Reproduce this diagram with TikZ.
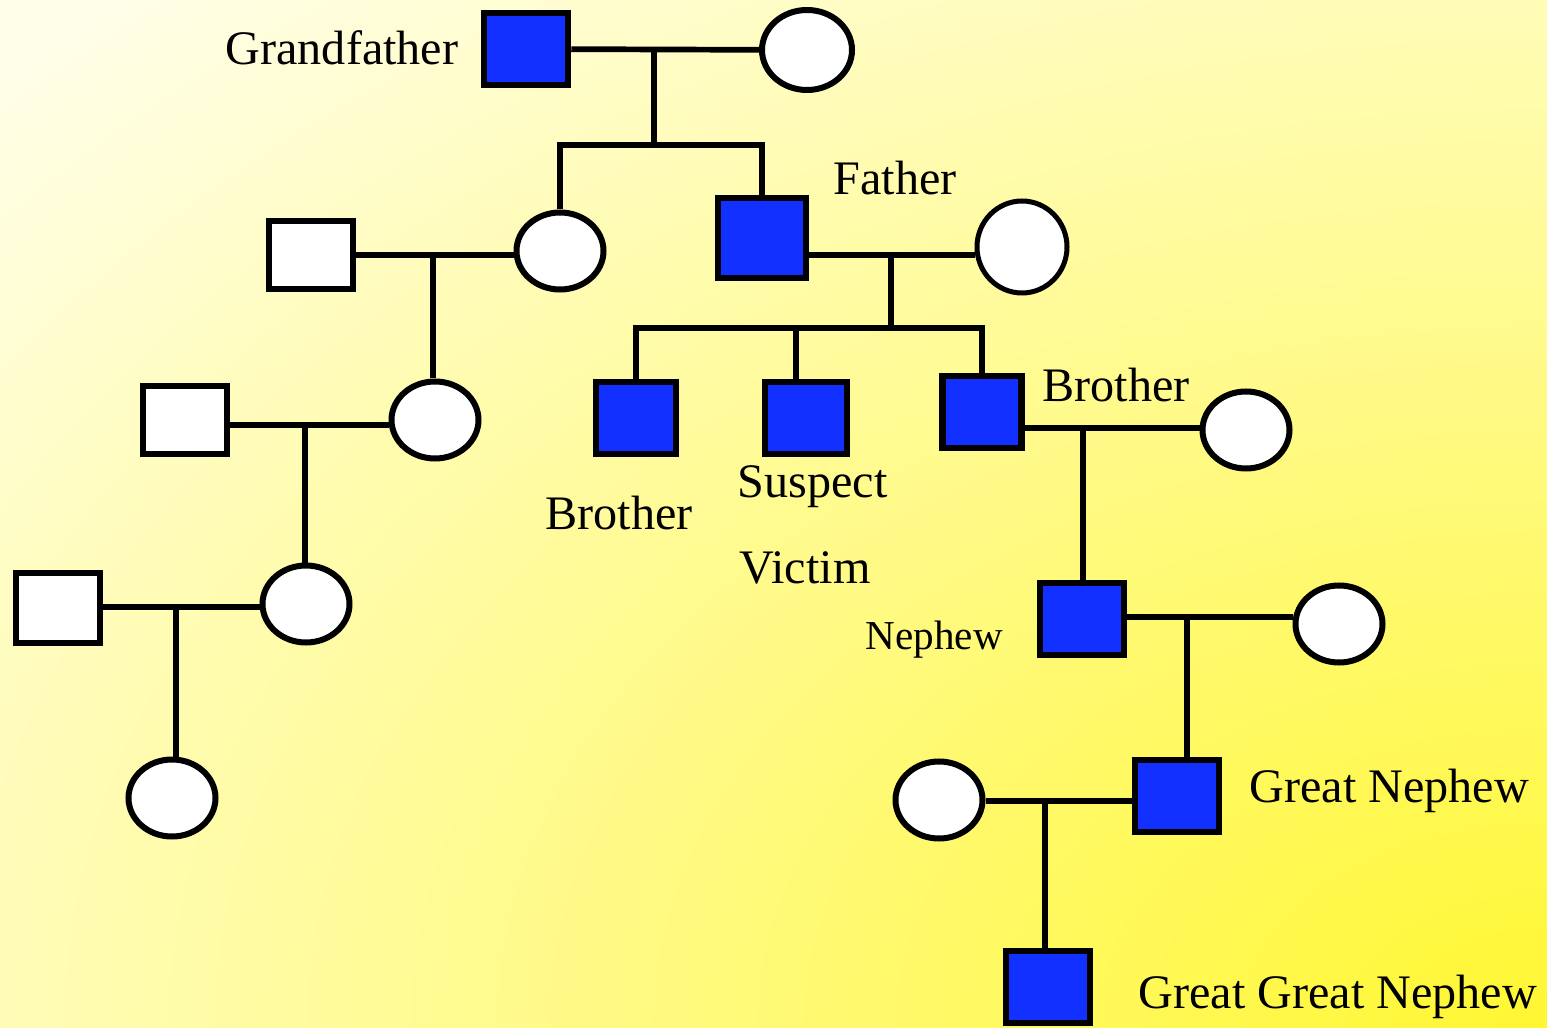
\documentclass[tikz,border=0pt]{standalone}
\usepackage{fontspec}
\setmainfont{Liberation Serif}
\usetikzlibrary{shapes.geometric}
\definecolor{kinblue}{RGB}{18,48,255}
\definecolor{paleyellow}{RGB}{255,254,232}
\definecolor{deepyellow}{RGB}{255,247,50}
\tikzset{
  male/.style={draw, line width=0.065cm, fill=kinblue, minimum width=0.84cm, minimum height=0.72cm, inner sep=0pt},
  plainmale/.style={male, fill=white},
  female/.style={draw, ellipse, line width=0.06cm, fill=white, minimum width=0.87cm, minimum height=0.77cm, inner sep=0pt},
  kin/.style={line width=0.057cm},
  kinname/.style={inner sep=0pt, anchor=base west, font=\fontsize{13.7}{16}\selectfont}
}
\begin{document}
\begin{tikzpicture}
\useasboundingbox (0,0) rectangle (15.47,10.27);
\begin{scope}
\clip (0,0) rectangle (15.47,10.27);
\fill[paleyellow] (0,0) rectangle (15.47,10.27);
\shade[inner color=deepyellow, outer color=paleyellow] (15.47,0) ellipse (21 and 14);
\end{scope}

\node[male] (gf) at (5.26,9.78) {};
\node[female, minimum width=0.90cm, minimum height=0.80cm] (gm) at (8.07,9.77) {};
\node[female] (aunt) at (5.60,7.76) {};
\node[male, minimum width=0.88cm, minimum height=0.80cm] (father) at (7.62,7.89) {};
\node[female, minimum width=0.90cm, minimum height=0.92cm, line width=0.05cm] (mother) at (10.22,7.80) {};
\node[plainmale, minimum height=0.68cm] (uncle) at (3.11,7.72) {};

\node[female] (cousin1) at (4.35,6.07) {};
\node[plainmale, minimum height=0.68cm] (cousin1man) at (1.85,6.07) {};
\node[female] (cousin2) at (3.06,4.23) {};
\node[plainmale, minimum height=0.70cm] (cousin2man) at (0.58,4.19) {};
\node[female] (cousin3) at (1.72,2.29) {};

\node[male, minimum width=0.80cm] (bro1) at (6.36,6.09) {};
\node[male, minimum width=0.82cm] (suspect) at (8.06,6.09) {};
\node[male, minimum width=0.79cm] (bro2) at (9.82,6.15) {};
\node[female] (sil) at (12.46,5.97) {};
\node[male] (nephew) at (10.82,4.08) {};
\node[female] (nwife) at (13.39,4.03) {};
\node[male] (gnephew) at (11.77,2.31) {};
\node[female] (gnwife) at (9.39,2.27) {};
\node[male] (ggnephew) at (10.48,0.40) {};

\coordinate (m0) at (6.54,9.78);
\coordinate (s0) at (6.54,8.82);
\coordinate (ma) at (4.33,7.72);
\coordinate (mf) at (8.91,7.72);
\coordinate (sf) at (8.91,6.99);
\coordinate (ms) at (7.96,6.99);
\coordinate (mc1) at (3.05,6.02);
\coordinate (mc2) at (1.76,4.20);
\coordinate (mb) at (10.83,5.99);
\coordinate (mn) at (11.87,4.10);
\coordinate (mg) at (10.45,2.26);

\draw[kin] (gf) -- (gm);
\draw[kin] (m0) -- (s0);
\draw[kin] (aunt.north) |- (s0) -| (father.north);
\draw[kin] (uncle.east |- ma) -- (aunt.west |- ma);
\draw[kin] (ma) -- (ma |- cousin1.north);
\draw[kin] (father.east |- mf) -- (mother.west |- mf);
\draw[kin] (mf) -- (sf);
\draw[kin] (bro1.north) |- (sf) -| (bro2.north);
\draw[kin] (ms) -- (ms |- suspect.north);

\draw[kin] (cousin1man.east |- mc1) -- (cousin1.west |- mc1);
\draw[kin] (mc1) -- (mc1 |- cousin2.north);
\draw[kin] (cousin2man.east |- mc2) -- (cousin2.west |- mc2);
\draw[kin] (mc2) -- (mc2 |- cousin3.north);

\draw[kin] (bro2.east |- mb) -- (sil.west |- mb);
\draw[kin] (mb) -- (mb |- nephew.north);
\draw[kin] (nephew.east |- mn) -- (nwife.west |- mn);
\draw[kin] (mn) -- (mn |- gnephew.north);
\draw[kin] (gnwife.east |- mg) -- (gnephew.west |- mg);
\draw[kin] (mg) -- (mg |- ggnephew.north);

\node[kinname] (lgf) at (2.25,9.62) {Grandfather};
\node[kinname] (lfather) at (8.33,8.32) {Father};
\node[kinname] (lbro2) at (10.42,6.25) {Brother};
\node[kinname] (lbro1) at (5.45,4.98) {Brother};
\node[kinname] (lsuspect) at (7.37,5.30) {Suspect};
\node[kinname] (lvictim) at (7.39,4.44) {Victim};
\node[kinname, font=\fontsize{11.7}{14}\selectfont] (lnephew) at (8.65,3.77) {Nephew};
\node[kinname] (lgnephew) at (12.49,2.25) {Great Nephew};
\node[kinname] (lggnephew) at (11.38,0.19) {Great Great Nephew};
\end{tikzpicture}
\end{document}
